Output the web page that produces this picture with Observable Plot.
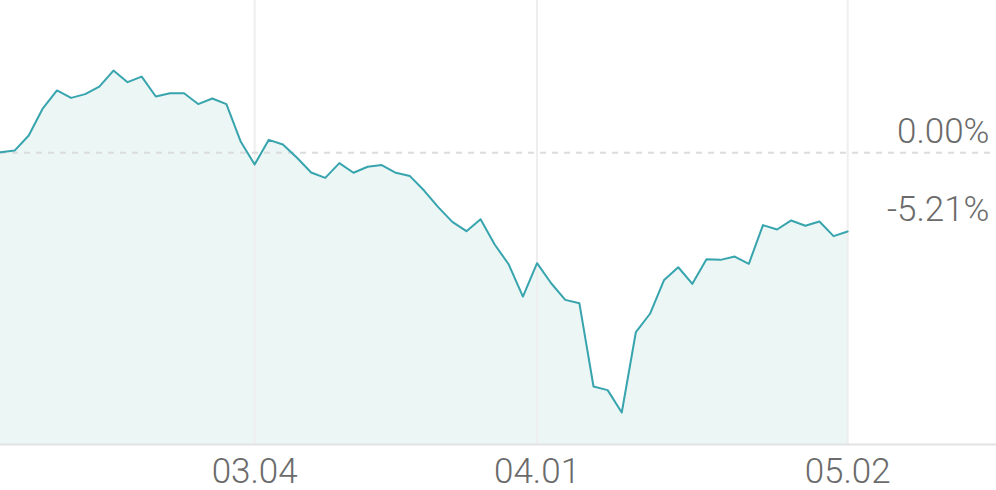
<!DOCTYPE html>
<html>
<head>
<meta charset="utf-8">
<script src="https://cdn.jsdelivr.net/npm/d3@7"></script>
<script src="https://cdn.jsdelivr.net/npm/@observablehq/plot@0.6"></script>
<style>
  html, body { margin: 0; padding: 0; background: #fff; }
  #chart svg { display: block; }
</style>
</head>
<body>
<div id="chart"></div>
<script>
// Korean trading days, 2025-02-05 .. 2025-05-02
const dates = [
  "02.05","02.06","02.07","02.10","02.11","02.12","02.13","02.14","02.17","02.18",
  "02.19","02.20","02.21","02.24","02.25","02.26","02.27","02.28",
  "03.04","03.05","03.06","03.07","03.10","03.11","03.12","03.13","03.14","03.17",
  "03.18","03.19","03.20","03.21","03.24","03.25","03.26","03.27","03.28","03.31",
  "04.01","04.02","04.03","04.04","04.07","04.08","04.09","04.10","04.11","04.14",
  "04.15","04.16","04.17","04.18","04.21","04.22","04.23","04.24","04.25","04.28",
  "04.29","04.30","05.02"
];
// cumulative return, %
const returns = [
  0.04, 0.15, 1.15, 2.95, 4.13, 3.64, 3.89, 4.39, 5.45, 4.68,
  5.05, 3.73, 3.95, 3.95, 3.23, 3.60, 3.23, 0.77,
  -0.77, 0.86, 0.55, -0.33, -1.30, -1.66, -0.68, -1.32, -0.92, -0.81,
  -1.32, -1.54, -2.50, -3.60, -4.57, -5.19, -4.40, -6.07, -7.40, -9.52,
  -7.31, -8.64, -9.74, -9.97, -15.48, -15.72, -17.20, -11.87, -10.66, -8.42,
  -7.58, -8.68, -7.05, -7.09, -6.87, -7.35, -4.79, -5.08, -4.48, -4.83,
  -4.55, -5.52, -5.21
];
const tickLabels = ["03.04", "04.01", "05.02"];
const refLabels = ["0.00%", "-5.21%"];

const data = dates.map((d, i) => ({i, date: d, v: returns[i]}));
const tickIdx = tickLabels.map(t => dates.indexOf(t));
const last = data[data.length - 1];
const refs = [{v: 0, label: refLabels[0]}, {v: last.v, label: refLabels[1]}];

const xMax = 70.54;
const yMin = -19.32, yMax = 10.09;

const chart = Plot.plot({
  width: 996,
  height: 490,
  marginTop: 0,
  marginBottom: 46,
  marginLeft: 0,
  marginRight: 0,
  style: {fontFamily: "Roboto", background: "#fff"},
  x: {domain: [0, xMax], axis: null},
  y: {domain: [yMin, yMax], axis: null},
  marks: [
    Plot.areaY(data, {x: "i", y1: yMin, y2: "v", fill: "#ebf6f5"}),
    Plot.ruleX(tickIdx, {stroke: "#eeeeee", strokeWidth: 2, y1: yMin, y2: yMax}),
    Plot.ruleY([0], {stroke: "#dcdcdc", strokeWidth: 2, strokeDasharray: "6,6"}),
    Plot.lineY(data, {x: "i", y: "v", stroke: "#37a4ae", strokeWidth: 2}),
    Plot.ruleY([yMin], {stroke: "#e2e2e2", strokeWidth: 2}),
    Plot.text(tickIdx, {
      x: d => d, y: yMin, text: (d, j) => tickLabels[j],
      dy: 38, fontSize: 35, fontWeight: 300, fill: "#6b6b6b", lineAnchor: "bottom"
    }),
    Plot.text(refs, {
      x: xMax, y: "v", text: "label", textAnchor: "end", lineAnchor: "bottom",
      dx: -7, dy: -10, fontSize: 35, fontWeight: 300, fill: "#6b6b6b"
    })
  ]
});
document.getElementById("chart").appendChild(chart);
</script>
</body>
</html>
